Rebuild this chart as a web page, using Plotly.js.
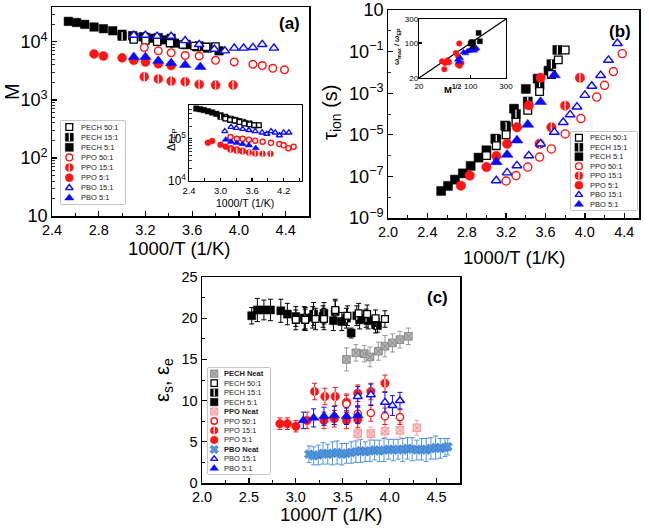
<!DOCTYPE html>
<html><head><meta charset="utf-8">
<script src="https://cdn.plot.ly/plotly-3.0.1.min.js"></script>
<style>html,body{margin:0;padding:0;background:#fff}#chart{width:649px;height:528px}</style>
</head><body><div id="chart"></div>
<script>
// ---------- (a) M vs 1000/T ----------
const a_pech50_x = [3.10, 3.20, 3.30, 3.41, 3.52, 3.62, 3.72, 3.80];
const a_pech50_y = [11000, 10500, 10000, 9500, 9000, 8500, 8200, 8300];
const a_pech15_x = [3.00, 3.10, 3.20, 3.31, 3.42, 3.54, 3.66, 3.75];
const a_pech15_y = [12500, 12000, 12000, 11800, 11500, 9000, 8500, 8000];
const a_pech5_x = [2.54, 2.61, 2.68, 2.76, 2.84, 2.92, 3.00, 3.09, 3.18, 3.27, 3.36, 3.45, 3.55, 3.64, 3.73, 3.83];
const a_pech5_y = [22500, 21500, 20000, 18000, 16800, 15500, 13500, 12800, 12200, 11500, 10800, 9500, 9000, 8200, 7800, 7000];
const a_ppo50_x = [3.19, 3.31, 3.42, 3.54, 3.66, 3.80, 3.96, 4.12, 4.20, 4.29, 4.39];
const a_ppo50_y = [8000, 7000, 6500, 5800, 5700, 4800, 4500, 4100, 3900, 3500, 3300];
const a_ppo15_x = [3.19, 3.31, 3.42, 3.54, 3.66, 3.80, 3.95];
const a_ppo15_y = [2500, 2300, 2100, 2050, 1850, 1800, 1800];
const a_ppo5_x = [2.76, 2.84, 3.00, 3.10, 3.20, 3.31, 3.42];
const a_ppo5_y = [6200, 5700, 5300, 4800, 4500, 4200, 3900];
const a_pbo15_x = [3.10, 3.20, 3.30, 3.42, 3.54, 3.66, 3.79, 3.88, 3.96, 4.04, 4.12, 4.20, 4.30];
const a_pbo15_y = [13000, 13000, 12500, 12500, 10500, 9000, 7500, 7000, 7800, 7800, 8000, 9000, 7800];
const a_pbo5_x = [3.10, 3.20, 3.31, 3.42, 3.54, 3.67];
const a_pbo5_y = [5500, 5500, 4700, 4300, 4000, 3700];

// inset of (a): Δε_EP vs 1000/T
const ia_pech50_x = [3.09, 3.18, 3.27, 3.36, 3.45, 3.55, 3.64, 3.73];
const ia_pech50_y = [300000, 280000, 270000, 250000, 230000, 220000, 210000, 210000];
const ia_pech15_x = [3.00, 3.10, 3.20, 3.30, 3.42, 3.55, 3.66];
const ia_pech15_y = [330000, 310000, 290000, 270000, 250000, 230000, 210000];
const ia_pech5_x = [2.54, 2.61, 2.68, 2.76, 2.84, 2.92, 3.00, 3.09, 3.18, 3.27, 3.36, 3.45];
const ia_pech5_y = [520000, 500000, 480000, 450000, 420000, 390000, 360000, 330000, 300000, 280000, 260000, 240000];
const ia_ppo50_x = [3.19, 3.31, 3.42, 3.54, 3.66, 3.80, 3.96, 4.12, 4.20, 4.29, 4.39];
const ia_ppo50_y = [110000, 100000, 100000, 95000, 90000, 85000, 80000, 75000, 70000, 60000, 65000];
const ia_ppo15_x = [3.19, 3.31, 3.42, 3.54, 3.66, 3.80, 3.95];
const ia_ppo15_y = [55000, 52000, 50000, 47000, 45000, 44000, 44000];
const ia_ppo5_x = [2.76, 2.84, 3.00, 3.10, 3.20, 3.31, 3.42];
const ia_ppo5_y = [80000, 88000, 72000, 65000, 60000, 56000, 52000];
const ia_pbo15_x = [3.08, 3.20, 3.30, 3.42, 3.54, 3.66, 3.79, 3.88, 3.96, 4.04, 4.12, 4.20, 4.30];
const ia_pbo15_y = [150000, 190000, 180000, 170000, 160000, 150000, 140000, 130000, 150000, 140000, 120000, 140000, 140000];
const ia_pbo5_x = [3.10, 3.20, 3.31, 3.42, 3.54, 3.67];
const ia_pbo5_y = [95000, 85000, 80000, 75000, 70000, 60000];

// ---------- (b) τ_ion vs 1000/T ----------
const b_pech50_x = [3.00, 3.10, 3.20, 3.30, 3.42, 3.54, 3.66, 3.73, 3.80];
const b_pech50_y = [1e-6, 3e-6, 1e-5, 4e-5, 1.5e-4, 1.2e-3, 8e-3, 4e-2, 1.2e-1];
const b_pech15_x = [3.10, 3.20, 3.30, 3.42, 3.54, 3.66, 3.72];
const b_pech15_y = [6e-6, 2.5e-5, 1e-4, 4e-4, 2.5e-3, 2.5e-2, 1.2e-1];
const b_pech5_x = [2.54, 2.61, 2.68, 2.76, 2.84, 2.92, 3.00, 3.09, 3.19, 3.28, 3.40, 3.52, 3.63];
const b_pech5_y = [2e-8, 3.5e-8, 7e-8, 1.4e-7, 3.2e-7, 8e-7, 1.8e-6, 6.5e-6, 2.8e-5, 1.8e-4, 1.6e-3, 5e-3, 1.2e-2];
const b_ppo50_x = [3.20, 3.30, 3.42, 3.54, 3.66, 3.80, 3.96, 4.12, 4.20, 4.29, 4.38];
const b_ppo50_y = [6e-8, 1.1e-7, 2.8e-7, 8.5e-7, 2.1e-6, 1.1e-5, 6e-5, 6.5e-4, 2.4e-3, 1.1e-2, 8e-2];
const b_ppo15_x = [3.54, 3.66, 3.80, 3.95];
const b_ppo15_y = [3.7e-6, 2.3e-5, 2.5e-4, 5.5e-3];
const b_ppo5_x = [2.74, 2.83, 3.00, 3.10, 3.21, 3.31, 3.43, 3.55];
const b_ppo5_y = [3.6e-8, 1.1e-7, 2.8e-7, 9.5e-7, 3.7e-6, 2.3e-5, 2.6e-4, 5.5e-3];
const b_pbo15_x = [3.10, 3.21, 3.31, 3.43, 3.55, 3.69, 3.78, 3.85, 3.92, 4.00, 4.07, 4.16, 4.24, 4.33];
const b_pbo15_y = [6.3e-8, 1.5e-7, 3.3e-7, 1e-6, 3.7e-6, 1.35e-5, 4e-5, 9.3e-5, 2.2e-4, 8e-4, 2.2e-3, 7.2e-3, 3.9e-2, 2.5e-1];
const b_pbo5_x = [3.10, 3.21, 3.31, 3.42, 3.55, 3.69];
const b_pbo5_y = [4.9e-7, 1.1e-6, 5.4e-6, 3.1e-5, 3.8e-4, 7.4e-3];

// inset of (b): ω_max/ω_EP vs M^1/2
const ib_pech_x = [100, 104, 108, 128, 133, 106];
const ib_pech_y = [98, 104, 100, 158, 108, 86];
const ib_ppo_x = [41, 44, 45, 48.6, 51, 63, 67.5, 67, 70, 71, 75];
const ib_ppo_y = [43, 30, 40, 45, 41, 63, 54, 37, 97, 35, 40];
const ib_pbo_x = [67, 70, 72, 80, 85, 90, 95, 100, 105, 110, 115, 120];
const ib_pbo_y = [46, 42, 50, 65, 62, 68, 70, 72, 75, 70, 74, 78];
const ib_fit = [20, 300];

// ---------- (c) ε_s, ε_e vs 1000/T ----------
const c_pechN_x = [3.54, 3.64, 3.73, 3.79, 3.88, 3.95, 4.03, 4.11, 4.20];
const c_pechN_y = [15.0, 15.8, 15.7, 15.3, 16.0, 16.6, 17.0, 17.4, 17.8];
const c_pechN_e = [1.4, 1.0, 1.0, 1.2, 1.1, 1.3, 1.1, 1.0, 1.0];
const c_pech50_x = [3.00, 3.10, 3.21, 3.30, 3.42, 3.55, 3.67, 3.76, 3.85, 3.95];
const c_pech50_y = [19.8, 19.8, 19.9, 19.9, 21.0, 20.3, 20.6, 20.5, 20.0, 19.9];
const c_pech50_e = [1.2, 1.3, 1.3, 1.3, 1.3, 1.2, 1.2, 1.1, 1.0, 1.0];
const c_pech15_x = [3.10, 3.19, 3.30, 3.42, 3.54, 3.65, 3.75, 3.85];
const c_pech15_y = [20.0, 20.5, 20.6, 20.8, 20.0, 20.3, 20.0, 19.2];
const c_pech15_e = [1.3, 1.4, 1.3, 1.3, 1.2, 1.2, 1.1, 1.0];
const c_pech5_x = [2.53, 2.59, 2.66, 2.73, 2.84, 2.91, 3.00, 3.09, 3.18, 3.29, 3.40, 3.49, 3.59, 3.68, 3.77, 3.87];
const c_pech5_y = [20.3, 21.0, 21.0, 21.0, 20.9, 20.5, 20.2, 20.0, 20.1, 20.2, 19.7, 19.6, 18.2, 19.8, 19.7, 19.1];
const c_pech5_e = [1.0, 1.4, 1.2, 1.3, 1.4, 1.3, 1.2, 1.4, 1.3, 1.3, 1.2, 1.1, 0.6, 1.1, 1.0, 0.8];
const c_ppoN_x = [3.66, 3.80, 3.95, 4.11, 4.29];
const c_ppoN_y = [6.0, 6.0, 6.3, 6.4, 6.7];
const c_ppoN_e = [0.8, 0.8, 0.8, 0.9, 0.9];
const c_ppo50_x = [3.54, 3.66, 3.80, 3.95, 4.11];
const c_ppo50_y = [9.6, 8.4, 8.5, 8.1, 8.0];
const c_ppo50_e = [1.0, 1.0, 1.0, 1.0, 0.9];
const c_ppo15_x = [3.20, 3.31, 3.42, 3.54, 3.66, 3.80, 3.95];
const c_ppo15_y = [11.1, 10.5, 10.5, 9.8, 10.9, 11.1, 12.1];
const c_ppo15_e = [1.0, 1.0, 1.1, 1.0, 1.0, 1.0, 1.0];
const c_ppo5_x = [2.83, 2.91, 3.00, 3.12, 3.30, 3.41, 3.54, 3.66];
const c_ppo5_y = [7.2, 7.2, 6.9, 7.6, 7.6, 7.8, 7.6, 7.7];
const c_ppo5_e = [0.7, 0.7, 0.7, 1.0, 1.0, 1.0, 1.0, 1.0];
const c_pboN_x = [3.14, 3.19, 3.24, 3.29, 3.34, 3.39, 3.44, 3.49, 3.54, 3.59, 3.64, 3.69, 3.74, 3.79, 3.84, 3.89, 3.94, 3.99, 4.04, 4.09, 4.14, 4.19, 4.24, 4.29, 4.34, 4.39, 4.44, 4.49, 4.54, 4.59, 4.62];
const c_pboN_y = [3.5, 3.3, 3.4, 3.6, 3.5, 3.6, 3.7, 3.5, 3.6, 3.7, 3.8, 3.9, 3.8, 3.9, 4.0, 3.9, 4.0, 4.1, 4.0, 4.1, 4.0, 4.2, 4.1, 4.0, 4.1, 4.0, 4.2, 4.3, 4.2, 4.3, 4.4];
const c_pboN_e = [1.0, 1.1, 1.2, 1.3, 1.2, 1.4, 1.4, 1.3, 1.2, 1.3, 1.3, 1.4, 1.2, 1.3, 1.2, 1.3, 1.4, 1.2, 1.3, 1.2, 1.4, 1.3, 1.4, 1.2, 1.3, 1.4, 1.3, 1.4, 1.2, 1.1, 1.0];
const c_pbo15_x = [3.66, 3.80, 3.95, 4.03, 4.11];
const c_pbo15_y = [10.5, 10.7, 9.8, 9.4, 10.0];
const c_pbo15_e = [1.2, 1.3, 1.2, 1.2, 1.0];
const c_pbo5_x = [3.08, 3.19, 3.30, 3.41, 3.54, 3.66];
const c_pbo5_y = [7.6, 7.9, 8.1, 8.2, 8.1, 8.2];
const c_pbo5_e = [1.0, 1.1, 1.1, 1.1, 1.0, 1.0];

// legend entries
const legendAB = ['PECH 50:1', 'PECH 15:1', 'PECH 5:1', 'PPO 50:1', 'PPO 15:1', 'PPO 5:1', 'PBO 15:1', 'PBO 5:1'];
const legendC = ['PECH Neat', 'PECH 50:1', 'PECH 15:1', 'PECH 5:1', 'PPO Neat', 'PPO 50:1', 'PPO 15:1', 'PPO 5:1', 'PBO Neat', 'PBO 15:1', 'PBO 5:1'];

// ---------- styling ----------
const W = 649, H = 528;
const FONT = 'Liberation Sans, Arial, sans-serif';
const RED = '#ff1515', BLUE = '#0b0bff';
// k: size factor, so outlined (open) symbols keep the same overall footprint as filled ones
const STYLE = {
  'PECH 50:1': {symbol: 'square', fill: '#ffffff', line: '#000000', lw: 1.3, k: 0.85},
  'PECH 15:1': {symbol: 'square', fill: '#000000', line: '#000000', lw: 0.5, half: true, k: 1},
  'PECH 5:1':  {symbol: 'square', fill: '#000000', line: '#000000', lw: 0.5, k: 1},
  'PPO 50:1':  {symbol: 'circle', fill: '#ffffff', line: RED, lw: 1.4, k: 0.85},
  'PPO 15:1':  {symbol: 'circle', fill: RED, line: RED, lw: 0.5, half: true, k: 1},
  'PPO 5:1':   {symbol: 'circle', fill: RED, line: RED, lw: 0.5, k: 1},
  'PBO 15:1':  {symbol: 'triangle-up', fill: '#ffffff', line: BLUE, lw: 1.4, k: 0.82},
  'PBO 5:1':   {symbol: 'triangle-up', fill: BLUE, line: BLUE, lw: 0.5, k: 1},
  'PECH Neat': {symbol: 'square-x', fill: '#b4b4b4', line: '#8a8a8a', lw: 1, err: '#9a9a9a', k: 0.95},
  'PPO Neat':  {symbol: 'square-x', fill: '#f9c8c8', line: '#f29a9a', lw: 1, err: '#f4a5a5', k: 0.95},
  'PBO Neat':  {symbol: 'x', fill: '#4f94dc', line: '#2f74c0', lw: 0.6, err: '#4f94dc', k: 1}
};

const px = v => v / W;
const py = v => 1 - v / H;

function markers(name, x, y, xa, ya, size, err) {
  const s = STYLE[name];
  const sz = size * s.k;
  const tr = {
    type: 'scatter', mode: 'markers', x: x, y: y, xaxis: xa, yaxis: ya,
    showlegend: false, hoverinfo: 'skip', cliponaxis: false,
    marker: {symbol: s.symbol, size: sz, color: s.fill, line: {color: s.line, width: s.lw}}
  };
  if (err) tr.error_y = {type: 'data', array: err, visible: true, color: s.err || s.line, thickness: 1, width: 2.5};
  const out = [tr];
  if (s.half) {
    out.push({
      type: 'scatter', mode: 'markers', x: x, y: y, xaxis: xa, yaxis: ya,
      showlegend: false, hoverinfo: 'skip', cliponaxis: false,
      marker: {symbol: 'line-ns', size: sz * 0.7, color: '#ffffff', line: {color: '#ffffff', width: 1.2}}
    });
  }
  return out;
}

let traces = [];
// panel (a)
traces = traces.concat(
  markers('PECH 5:1', a_pech5_x, a_pech5_y, 'x', 'y', 8.5),
  markers('PECH 15:1', a_pech15_x, a_pech15_y, 'x', 'y', 8.5),
  markers('PECH 50:1', a_pech50_x, a_pech50_y, 'x', 'y', 8.5),
  markers('PPO 5:1', a_ppo5_x, a_ppo5_y, 'x', 'y', 9),
  markers('PPO 15:1', a_ppo15_x, a_ppo15_y, 'x', 'y', 9),
  markers('PPO 50:1', a_ppo50_x, a_ppo50_y, 'x', 'y', 9),
  markers('PBO 5:1', a_pbo5_x, a_pbo5_y, 'x', 'y', 10),
  markers('PBO 15:1', a_pbo15_x, a_pbo15_y, 'x', 'y', 10)
);
// panel (b)
traces = traces.concat(
  markers('PECH 5:1', b_pech5_x, b_pech5_y, 'x2', 'y2', 9),
  markers('PECH 15:1', b_pech15_x, b_pech15_y, 'x2', 'y2', 9),
  markers('PECH 50:1', b_pech50_x, b_pech50_y, 'x2', 'y2', 9),
  markers('PPO 5:1', b_ppo5_x, b_ppo5_y, 'x2', 'y2', 9.5),
  markers('PPO 15:1', b_ppo15_x, b_ppo15_y, 'x2', 'y2', 9.5),
  markers('PPO 50:1', b_ppo50_x, b_ppo50_y, 'x2', 'y2', 9.5),
  markers('PBO 5:1', b_pbo5_x, b_pbo5_y, 'x2', 'y2', 10.5),
  markers('PBO 15:1', b_pbo15_x, b_pbo15_y, 'x2', 'y2', 10.5)
);
// panel (c)
traces = traces.concat(
  markers('PBO Neat', c_pboN_x, c_pboN_y, 'x3', 'y3', 8, c_pboN_e),
  markers('PPO Neat', c_ppoN_x, c_ppoN_y, 'x3', 'y3', 8, c_ppoN_e),
  markers('PECH Neat', c_pechN_x, c_pechN_y, 'x3', 'y3', 8, c_pechN_e),
  markers('PECH 5:1', c_pech5_x, c_pech5_y, 'x3', 'y3', 8, c_pech5_e),
  markers('PECH 15:1', c_pech15_x, c_pech15_y, 'x3', 'y3', 8, c_pech15_e),
  markers('PECH 50:1', c_pech50_x, c_pech50_y, 'x3', 'y3', 8, c_pech50_e),
  markers('PPO 5:1', c_ppo5_x, c_ppo5_y, 'x3', 'y3', 8.5, c_ppo5_e),
  markers('PPO 15:1', c_ppo15_x, c_ppo15_y, 'x3', 'y3', 8.5, c_ppo15_e),
  markers('PPO 50:1', c_ppo50_x, c_ppo50_y, 'x3', 'y3', 8.5, c_ppo50_e),
  markers('PBO 5:1', c_pbo5_x, c_pbo5_y, 'x3', 'y3', 9.5, c_pbo5_e),
  markers('PBO 15:1', c_pbo15_x, c_pbo15_y, 'x3', 'y3', 9.5, c_pbo15_e)
);
// inset (a)
traces = traces.concat(
  markers('PECH 5:1', ia_pech5_x, ia_pech5_y, 'x4', 'y4', 5.5),
  markers('PECH 15:1', ia_pech15_x, ia_pech15_y, 'x4', 'y4', 5.5),
  markers('PECH 50:1', ia_pech50_x, ia_pech50_y, 'x4', 'y4', 5.5),
  markers('PPO 5:1', ia_ppo5_x, ia_ppo5_y, 'x4', 'y4', 6),
  markers('PPO 15:1', ia_ppo15_x, ia_ppo15_y, 'x4', 'y4', 6),
  markers('PPO 50:1', ia_ppo50_x, ia_ppo50_y, 'x4', 'y4', 6),
  markers('PBO 5:1', ia_pbo5_x, ia_pbo5_y, 'x4', 'y4', 6.5),
  markers('PBO 15:1', ia_pbo15_x, ia_pbo15_y, 'x4', 'y4', 6.5)
);
// inset (b)
traces.push({type: 'scatter', mode: 'lines', x: ib_fit, y: ib_fit, xaxis: 'x5', yaxis: 'y5',
  showlegend: false, hoverinfo: 'skip', line: {color: '#000000', width: 1.2}});
traces = traces.concat(
  markers('PPO 5:1', ib_ppo_x, ib_ppo_y, 'x5', 'y5', 5.5),
  markers('PBO 5:1', ib_pbo_x, ib_pbo_y, 'x5', 'y5', 6),
  markers('PECH 5:1', ib_pech_x, ib_pech_y, 'x5', 'y5', 5)
);

// ---------- legends (drawn on hidden helper axes) ----------
const annotations = [];
const shapes = [];
const extraAxes = {};
function legendBox(n, box, names, fontSize, symSize, boldNeat) {
  const xa = 'x' + n, ya = 'y' + n;
  extraAxes['xaxis' + n] = {domain: [px(box.x0), px(box.x1)], range: [0, 1], visible: false, fixedrange: true, anchor: ya};
  extraAxes['yaxis' + n] = {domain: [py(box.y1), py(box.y0)], range: [names.length + 0.1, -0.1], visible: false, fixedrange: true, anchor: xa};
  shapes.push({type: 'rect', xref: 'paper', yref: 'paper', x0: px(box.x0), x1: px(box.x1), y0: py(box.y1), y1: py(box.y0),
    line: {color: '#8c8c8c', width: 1}, fillcolor: '#ffffff', layer: 'below'});
  names.forEach((nm, i) => {
    traces = traces.concat(markers(nm, [box.sym], [i + 0.5], xa, ya, symSize));
    const bold = boldNeat && nm.indexOf('Neat') >= 0;
    annotations.push({xref: xa, yref: ya, x: box.txt, y: i + 0.5, xanchor: 'left', yanchor: 'middle', showarrow: false,
      text: bold ? '<b>' + nm + '</b>' : nm, font: {family: FONT, size: fontSize, color: '#222'}});
  });
}
legendBox(6, {x0: 61, x1: 125, y0: 121, y1: 204, sym: 0.13, txt: 0.28}, legendAB, 7.5, 8, false);
legendBox(7, {x0: 571, x1: 637, y0: 132, y1: 210, sym: 0.12, txt: 0.26}, legendAB, 7.5, 8, false);
legendBox(8, {x0: 208, x1: 270, y0: 368, y1: 474, sym: 0.1, txt: 0.22}, legendC, 7.5, 7.5, true);

// ---------- text ----------
function label(x, y, text, size, opts) {
  annotations.push(Object.assign({xref: 'paper', yref: 'paper', x: px(x), y: py(y), xanchor: 'center', yanchor: 'middle',
    showarrow: false, text: text, font: {family: FONT, size: size, color: '#000'}}, opts || {}));
}
label(180, 248, '1000/T (1/K)', 18.5);
label(12, 92, 'M', 20, {textangle: -90});
label(514, 257, '1000/T (1/K)', 18.5);
label(332, 113, 'τ<sub>ion</sub> (s)', 20, {textangle: -90});
label(331, 514, '1000/T (1/K)', 18.5);
label(163, 380, 'ε<sub>s</sub>, ε<sub>e</sub>', 20, {textangle: -90});
label(289, 24, '<b>(a)</b>', 17);
label(620, 32, '<b>(b)</b>', 17);
label(437, 297, '<b>(c)</b>', 17);
label(245, 203, '1000/T (1/K)', 10.5);
label(172, 140, 'Δε<sub>EP</sub>', 11, {textangle: -90});
label(397, 47, '<b>ω<sub>max</sub> / ω<sub>EP</sub></b>', 7.5, {textangle: -90});
label(452, 89, '<b>M<sup>1/2</sup></b>', 9.5);

// ---------- axes ----------
const tickFont = {family: FONT, size: 14.5, color: '#000'};
const smallFont = {family: FONT, size: 9.5, color: '#000'};
const tinyFont = {family: FONT, size: 8, color: '#000'};
const base = {showline: true, linecolor: '#000', linewidth: 1.5, mirror: true, ticks: 'inside', ticklen: 5, tickwidth: 1.3,
  tickcolor: '#000', showgrid: false, zeroline: false, fixedrange: true};
const linMinor = dt => ({ticks: 'inside', ticklen: 3, tickwidth: 1, tickcolor: '#000', dtick: dt, showgrid: false});
const logMinor = {ticks: 'inside', ticklen: 2.5, tickwidth: 0.8, tickcolor: '#000', showgrid: false};

const layout = Object.assign({
  width: W, height: H, margin: {l: 0, r: 0, t: 0, b: 0},
  paper_bgcolor: '#fff', plot_bgcolor: '#fff', showlegend: false,
  font: {family: FONT, color: '#000'},
  xaxis: Object.assign({}, base, {domain: [px(52), px(309)], anchor: 'y', range: [2.4, 4.6], tick0: 2.4, dtick: 0.4,
    tickformat: '.1f', tickfont: tickFont, minor: linMinor(0.2)}),
  yaxis: Object.assign({}, base, {domain: [py(216), py(7)], anchor: 'x', type: 'log', range: [1, 4.6], dtick: 1,
    exponentformat: 'power', tickfont: tickFont, minor: logMinor}),
  xaxis2: Object.assign({}, base, {domain: [px(388), px(639)], anchor: 'y2', range: [2.0, 4.55], tick0: 2.0, dtick: 0.4,
    tickformat: '.1f', tickfont: tickFont, minor: linMinor(0.2)}),
  yaxis2: Object.assign({}, base, {domain: [py(218), py(10)], anchor: 'x2', type: 'log', range: [-9, 1], tick0: 1, dtick: 2,
    exponentformat: 'power', tickfont: tickFont, minor: Object.assign({}, logMinor, {dtick: 1})}),
  xaxis3: Object.assign({}, base, {domain: [px(202), px(460)], anchor: 'y3', range: [2.0, 4.75], tick0: 2.0, dtick: 0.5,
    tickformat: '.1f', tickfont: tickFont, minor: linMinor(0.25)}),
  yaxis3: Object.assign({}, base, {domain: [py(483), py(277)], anchor: 'x3', range: [0, 25], dtick: 5,
    tickfont: tickFont, minor: linMinor(2.5)}),
  xaxis4: Object.assign({}, base, {domain: [px(189), px(302)], anchor: 'y4', range: [2.4, 4.55], tick0: 2.4, dtick: 0.6,
    tickformat: '.1f', tickfont: smallFont, linewidth: 1.2, ticklen: 3, minor: linMinor(0.3)}),
  yaxis4: Object.assign({}, base, {domain: [py(181), py(105)], anchor: 'x4', type: 'log', range: [4, 5.8], dtick: 1,
    exponentformat: 'power', tickfont: smallFont, linewidth: 1.2, ticklen: 3, minor: logMinor}),
  xaxis5: Object.assign({}, base, {domain: [px(419), px(506)], anchor: 'y5', type: 'log', range: [Math.log10(20), Math.log10(300)],
    tickvals: [20, 100, 300], ticktext: ['20', '100', '300'], tickfont: tinyFont, linewidth: 1.2, ticklen: 3}),
  yaxis5: Object.assign({}, base, {domain: [py(78), py(19)], anchor: 'x5', type: 'log', range: [Math.log10(20), Math.log10(300)],
    tickvals: [20, 100, 300], ticktext: ['20', '100', '300'], tickfont: tinyFont, linewidth: 1.2, ticklen: 3, ticklabelstandoff: -2}),
  annotations: annotations,
  shapes: shapes
}, extraAxes);

Plotly.newPlot('chart', traces, layout, {staticPlot: true, displayModeBar: false});
</script></body></html>
